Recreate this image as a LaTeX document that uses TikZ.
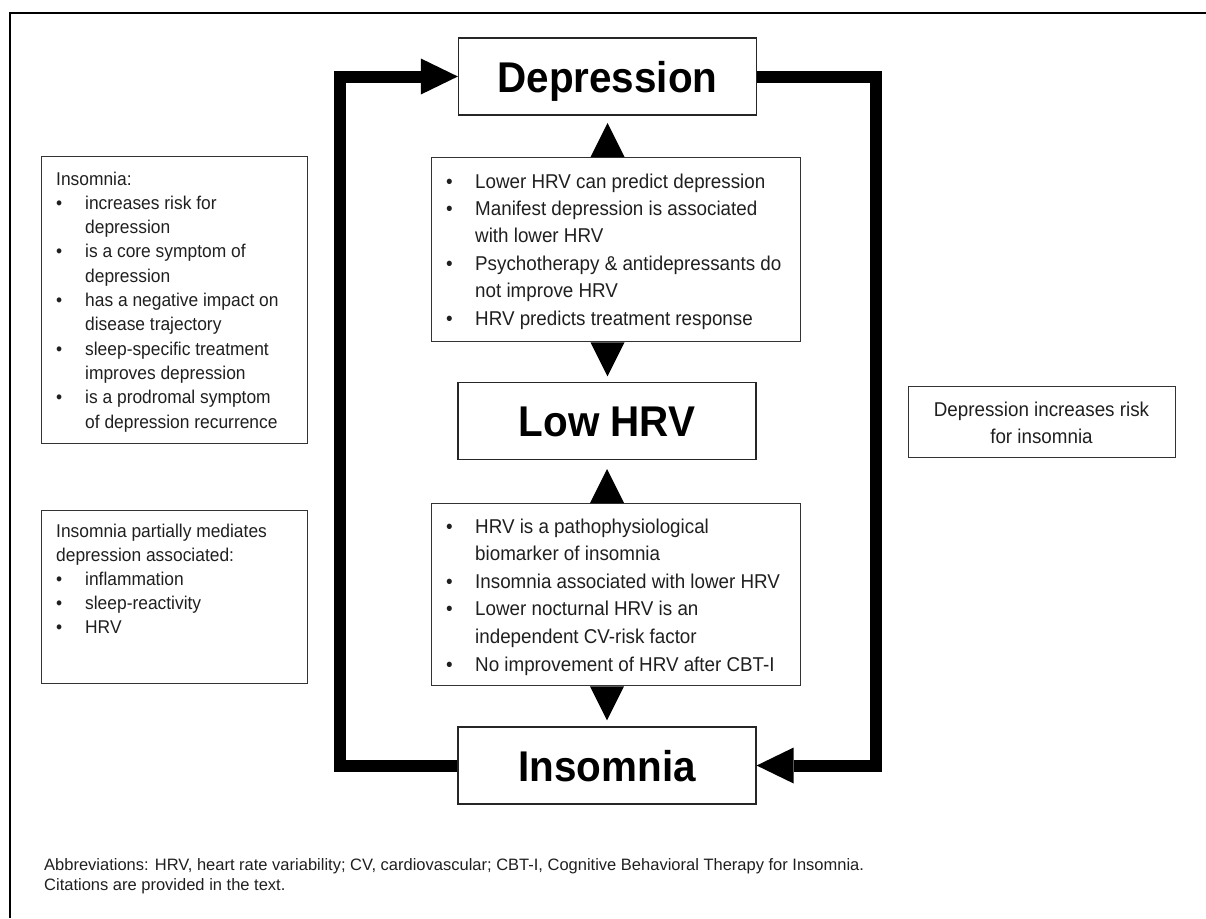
\documentclass[tikz,border=0pt]{standalone}
\usepackage{fontspec}
\setmainfont{Liberation Sans}[FakeStretch=0.94]
\newfontfamily\footfont{Liberation Sans}
\begin{document}
\begin{tikzpicture}[x=1pt,y=-1pt]
\tikzset{
  titlebox/.style={draw=black!85, line width=1.3pt, fill=white, minimum width=298pt, minimum height=77pt,
    inner sep=0pt, font=\fontsize{43}{43}\selectfont\bfseries, text height=31pt, text depth=0pt},
  infobox/.style={draw=black!80, line width=1.3pt, inner sep=0pt, anchor=north west},
  txt/.style={inner sep=0pt, anchor=base west, align=left, text=black!88},
  loopline/.style={line width=12pt, line join=miter},
}
\useasboundingbox (0,0) rectangle (1206,918);
% outer frame (cropped)
\draw[line width=2.5pt, line join=miter] (10,918) -- (10,13) -- (1206,13);

% title boxes
\node[titlebox] (dep) at (607.5,76.5) {Depression};
\node[titlebox] (low) at (607,421) {Low HRV};
\node[titlebox] (ins) at (607,765.5) {Insomnia};

% info boxes
\node[infobox, minimum width=369pt, minimum height=184pt] (upbox) at (431,157) {};
\node[infobox, minimum width=369pt, minimum height=182pt] (lowbox) at (431,503) {};
\node[infobox, minimum width=266pt, minimum height=287pt] (lbox1) at (41,156) {};
\node[infobox, minimum width=266pt, minimum height=173pt] (lbox2) at (41,510) {};
\node[infobox, minimum width=267pt, minimum height=71pt] (rbox) at (908,386) {};

% texts
\node[txt, font=\fontsize{20}{27.4}\selectfont] (uptext) at (446,188) {%
\begin{tabular}[t]{@{}p{29pt}@{}l@{}}
\textbullet & Lower HRV can predict depression\\
\textbullet & Manifest depression is associated\\
 & with lower HRV\\
\textbullet & Psychotherapy \& antidepressants do\\
 & not improve HRV\\
\textbullet & HRV predicts treatment response
\end{tabular}};

\node[txt, font=\fontsize{20}{27.6}\selectfont] (lowtext) at (446,533) {%
\begin{tabular}[t]{@{}p{29pt}@{}l@{}}
\textbullet & HRV is a pathophysiological\\
 & biomarker of insomnia\\
\textbullet & Insomnia associated with lower HRV\\
\textbullet & Lower nocturnal HRV is an\\
 & independent CV-risk factor\\
\textbullet & No improvement of HRV after CBT-I
\end{tabular}};

\node[txt, font=\fontsize{18.5}{24.3}\selectfont] (ltext1) at (56,185) {%
\begin{tabular}[t]{@{}p{29pt}@{}l@{}}
\multicolumn{2}{@{}l@{}}{Insomnia:}\\
\textbullet & increases risk for\\
 & depression\\
\textbullet & is a core symptom of\\
 & depression\\
\textbullet & has a negative impact on\\
 & disease trajectory\\
\textbullet & sleep-specific treatment\\
 & improves depression\\
\textbullet & is a prodromal symptom\\
 & of depression recurrence
\end{tabular}};

\node[txt, font=\fontsize{18.5}{24.2}\selectfont] (ltext2) at (56,537) {%
\begin{tabular}[t]{@{}p{29pt}@{}l@{}}
\multicolumn{2}{@{}l@{}}{Insomnia partially mediates}\\
\multicolumn{2}{@{}l@{}}{depression associated:}\\
\textbullet & inflammation\\
\textbullet & sleep-reactivity\\
\textbullet & HRV
\end{tabular}};

\node[txt, anchor=base, font=\fontsize{20}{27}\selectfont] (rtext) at (1041.5,416) {%
\begin{tabular}[t]{@{}c@{}}
Depression increases risk\\
for insomnia
\end{tabular}};

\node[txt, font=\footfont\fontsize{16.5}{20}\selectfont] (foot) at (44,870.7) {%
\begin{tabular}[t]{@{}l@{}}
Abbreviations: HRV, heart rate variability; CV, cardiovascular; CBT-I, Cognitive Behavioral Therapy for Insomnia.\\
Citations are provided in the text.
\end{tabular}};

% feedback loops
\coordinate (lc) at (340,76.5);
\coordinate (rc) at (876,76.5);
\draw[loopline] (ins.west) -| (lc) -- ([xshift=-37pt]dep.west);
\fill ([xshift=-37pt,yshift=18pt]dep.west) -- (dep.west) -- ([xshift=-37pt,yshift=-18pt]dep.west) -- cycle;
\draw[loopline] (dep.east) -- (rc) |- ([xshift=37pt]ins.east);
\fill ([xshift=37pt,yshift=18pt]ins.east) -- (ins.east) -- ([xshift=37pt,yshift=-18pt]ins.east) -- cycle;

% small triangles
\fill (dep.south |- upbox.north) ++(-17,0) -- ++(17,-34) -- ++(17,34) -- cycle;
\fill (dep.south |- upbox.south) ++(-17,0) -- ++(17,34) -- ++(17,-34) -- cycle;
\fill (low.south |- lowbox.north) ++(-17,0) -- ++(17,-34) -- ++(17,34) -- cycle;
\fill (low.south |- lowbox.south) ++(-17,0) -- ++(17,34) -- ++(17,-34) -- cycle;
\end{tikzpicture}
\end{document}
